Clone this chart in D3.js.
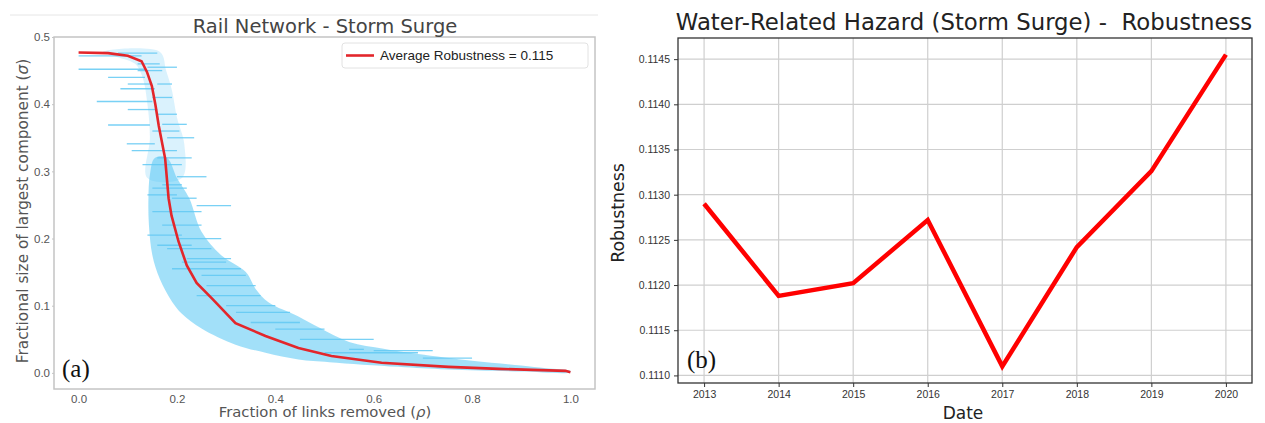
<!DOCTYPE html>
<html>
<head>
<meta charset="utf-8">
<script src="https://cdn.jsdelivr.net/npm/d3@7"></script>
<style>
  body { margin: 0; background: #fff; }
  svg { display: block; }
</style>
</head>
<body>
<div id="chart"></div>
<script>
// ---- data: panel (a) average robustness curve ----
const avgRho   = [0, 0.06, 0.10, 0.128, 0.139, 0.149, 0.156, 0.163, 0.176, 0.183, 0.189, 0.203, 0.220, 0.240, 0.271, 0.319, 0.38, 0.447, 0.514, 0.616, 0.752, 0.854, 0.99, 1.0];
const avgSigma = [0.477, 0.476, 0.472, 0.464, 0.448, 0.427, 0.40, 0.368, 0.319, 0.26, 0.234, 0.196, 0.160, 0.134, 0.111, 0.074, 0.055, 0.037, 0.025, 0.015, 0.009, 0.006, 0.003, 0.001];

// cloud of individual runs: sparse upper part and dense lower part (closed outlines)
const bandUpper = [[0.05,0.478],[0.165,0.478],[0.178,0.45],[0.19,0.42],[0.2,0.38],[0.215,0.34],[0.21,0.29],
                   [0.14,0.29],[0.145,0.35],[0.14,0.40],[0.13,0.44],[0.115,0.46],[0.08,0.47]];
const bandLower = [[0.155,0.32],[0.18,0.32],[0.2,0.29],[0.225,0.26],[0.25,0.21],[0.29,0.175],[0.34,0.15],[0.36,0.125],[0.386,0.105],
                   [0.447,0.084],[0.49,0.067],[0.55,0.046],[0.62,0.036],[0.69,0.028],[0.8,0.018],[0.9,0.011],[0.95,0.007],[1.0,0.003],
                   [1.0,0.001],[0.9,0.002],[0.75,0.005],[0.65,0.009],[0.51,0.016],[0.447,0.02],[0.38,0.03],[0.319,0.042],
                   [0.25,0.066],[0.21,0.088],[0.19,0.106],[0.165,0.14],[0.15,0.175],[0.143,0.22],[0.142,0.26],[0.145,0.295]];

// stray run segments [rhoStart, rhoEnd, sigma]
const runSegs = [
  [0.00,0.128,0.472],[0.00,0.135,0.452],[0.06,0.135,0.44],[0.085,0.155,0.423],[0.037,0.15,0.404],
  [0.10,0.16,0.392],[0.06,0.145,0.369],[0.098,0.155,0.341],[0.108,0.2,0.331],[0.13,0.21,0.31],
  [0.2,0.26,0.292],[0.15,0.22,0.275],[0.24,0.31,0.249],[0.15,0.25,0.24],[0.14,0.2,0.265],
  [0.17,0.25,0.22],[0.14,0.21,0.205],[0.18,0.27,0.185],[0.19,0.33,0.155],[0.25,0.34,0.145],
  [0.22,0.31,0.17],[0.3,0.4,0.1],[0.35,0.45,0.075],[0.55,0.58,0.035],[0.5,0.69,0.03],
  [0.08,0.16,0.476],[0.12,0.165,0.46],[0.16,0.19,0.43],[0.17,0.22,0.37],[0.18,0.235,0.35],
  [0.14,0.2,0.455],[0.15,0.19,0.41],[0.16,0.2,0.385],[0.15,0.205,0.36],[0.16,0.23,0.32],
  [0.17,0.21,0.28],[0.19,0.24,0.26],[0.2,0.29,0.2],[0.16,0.23,0.19],[0.21,0.3,0.165],
  [0.26,0.36,0.13],[0.24,0.37,0.115],[0.32,0.43,0.09],[0.4,0.5,0.065],[0.45,0.6,0.05],
  [0.6,0.72,0.033],[0.7,0.8,0.022],[0.12,0.17,0.45],[0.1,0.15,0.43]
];

const rhoTicks = [0, 0.2, 0.4, 0.6, 0.8, 1.0];
const sigmaTicks = [0, 0.1, 0.2, 0.3, 0.4, 0.5];

// ---- data: panel (b) robustness per year ----
const years = [2013, 2014, 2015, 2016, 2017, 2018, 2019, 2020];
const robustness = [0.11290, 0.11188, 0.11202, 0.11272, 0.11110, 0.11242, 0.11326, 0.11455];
const robTicks = [0.1110, 0.1115, 0.1120, 0.1125, 0.1130, 0.1135, 0.1140, 0.1145];

const W = 1265, H = 423;
const svg = d3.select('#chart').append('svg')
  .attr('width', W).attr('height', H)
  .style('font-family', 'DejaVu Sans, sans-serif');

// ================= panel (a) =================
const xa = d3.scaleLinear().domain([-0.05, 1.05]).range([54, 595]);
const ya = d3.scaleLinear().domain([-0.024, 0.5]).range([389, 37]);

// faint figure border on top
svg.append('line').attr('x1', 10).attr('x2', 598).attr('y1', 15).attr('y2', 15)
  .attr('stroke', '#e6e6e6');

const ga = svg.append('g');
ga.append('rect').attr('x', 54).attr('y', 37).attr('width', 541).attr('height', 352)
  .attr('fill', '#fff').attr('stroke', '#c4c4c4').attr('stroke-width', 1.5);

const closed = d3.line().x(d => xa(d[0])).y(d => ya(d[1])).curve(d3.curveCatmullRomClosed);
ga.append('path').attr('d', closed(bandUpper))
  .attr('fill', '#55c6f4').attr('fill-opacity', 0.22);
ga.append('path').attr('d', closed(bandLower))
  .attr('fill', '#55c6f4').attr('fill-opacity', 0.55);

ga.selectAll('line.run').data(runSegs).enter().append('line')
  .attr('class', 'run')
  .attr('x1', d => xa(d[0])).attr('x2', d => xa(d[1]))
  .attr('y1', d => ya(d[2])).attr('y2', d => ya(d[2]))
  .attr('stroke', '#62c9f4').attr('stroke-width', 1.3).attr('opacity', 0.85);

ga.append('path')
  .datum(avgRho.map((r, i) => [r, avgSigma[i]]))
  .attr('d', d3.line().x(d => xa(d[0])).y(d => ya(d[1])))
  .attr('fill', 'none').attr('stroke', '#e3262b').attr('stroke-width', 2.6);

const axA = svg.append('g').attr('transform', 'translate(0,389)')
  .call(d3.axisBottom(xa).tickValues(rhoTicks).tickFormat(d3.format('.1f')).tickSize(0).tickPadding(6));
axA.select('.domain').remove();
axA.selectAll('text').attr('fill', '#555').style('font-size', '11.5px');

const ayA = svg.append('g').attr('transform', 'translate(54,0)')
  .call(d3.axisLeft(ya).tickValues(sigmaTicks).tickFormat(d3.format('.1f')).tickSize(2).tickPadding(2));
ayA.select('.domain').remove();
ayA.selectAll('line').attr('stroke', '#c4c4c4');
ayA.selectAll('text').attr('fill', '#555').style('font-size', '11.5px');

svg.append('text').attr('x', 325).attr('y', 33).attr('text-anchor', 'middle')
  .attr('fill', '#444').style('font-size', '19.5px').text('Rail Network - Storm Surge');
const xl = svg.append('text').attr('x', 325).attr('y', 417).attr('text-anchor', 'middle')
  .attr('fill', '#555').style('font-size', '14.8px');
xl.append('tspan').text('Fraction of links removed (');
xl.append('tspan').style('font-style', 'italic').text('\u03c1');
xl.append('tspan').text(')');
const yl = svg.append('text').attr('transform', 'translate(28,211) rotate(-90)').attr('text-anchor', 'middle')
  .attr('fill', '#555').style('font-size', '15.3px');
yl.append('tspan').text('Fractional size of largest component (');
yl.append('tspan').style('font-style', 'italic').text('\u03c3');
yl.append('tspan').text(')');
svg.append('text').attr('x', 62).attr('y', 377)
  .style('font-family', 'Liberation Serif, serif').style('font-size', '25px').attr('fill', '#111').text('(a)');

// legend
const lg = svg.append('g').attr('transform', 'translate(342,43)');
lg.append('rect').attr('width', 246).attr('height', 25).attr('rx', 3)
  .attr('fill', '#fff').attr('stroke', '#e2e2e2');
lg.append('line').attr('x1', 4).attr('x2', 32).attr('y1', 12.5).attr('y2', 12.5)
  .attr('stroke', '#e3262b').attr('stroke-width', 2.6);
lg.append('text').attr('x', 38).attr('y', 17).style('font-family', 'Liberation Sans, Arial, sans-serif')
  .style('font-size', '13.5px').attr('fill', '#222').text('Average Robustness = 0.115');

// ================= panel (b) =================
const xb = d3.scaleLinear().domain([2012.65, 2020.35]).range([678, 1252]);
const yb = d3.scaleLinear().domain([0.110916, 0.114734]).range([383, 38]);

const gb = svg.append('g');
gb.selectAll('line.gx').data(years).enter().append('line').attr('class', 'gx')
  .attr('x1', d => xb(d)).attr('x2', d => xb(d)).attr('y1', 38).attr('y2', 383)
  .attr('stroke', '#cfcfcf').attr('stroke-width', 1.2);
gb.selectAll('line.gy').data(robTicks).enter().append('line').attr('class', 'gy')
  .attr('x1', 678).attr('x2', 1252).attr('y1', d => yb(d)).attr('y2', d => yb(d))
  .attr('stroke', '#cfcfcf').attr('stroke-width', 1.2);

gb.append('path')
  .datum(years.map((y, i) => [y, robustness[i]]))
  .attr('d', d3.line().x(d => xb(d[0])).y(d => yb(d[1])))
  .attr('fill', 'none').attr('stroke', '#ff0000').attr('stroke-width', 4.5)
  .attr('stroke-linejoin', 'miter');

gb.append('rect').attr('x', 678).attr('y', 38).attr('width', 574).attr('height', 345)
  .attr('fill', 'none').attr('stroke', '#333').attr('stroke-width', 1.3);

const axB = svg.append('g').attr('transform', 'translate(0,383)')
  .call(d3.axisBottom(xb).tickValues(years).tickFormat(d3.format('d')).tickSize(4).tickPadding(4));
axB.select('.domain').remove();
axB.selectAll('line').attr('stroke', '#333');
axB.selectAll('text').attr('fill', '#333').style('font-size', '10.5px');

const ayB = svg.append('g').attr('transform', 'translate(678,0)')
  .call(d3.axisLeft(yb).tickValues(robTicks).tickFormat(d3.format('.4f')).tickSize(4).tickPadding(4));
ayB.select('.domain').remove();
ayB.selectAll('line').attr('stroke', '#333');
ayB.selectAll('text').attr('fill', '#333').style('font-size', '10.5px');

svg.append('text').attr('x', 964).attr('y', 30).attr('text-anchor', 'middle')
  .attr('fill', '#222').style('font-size', '22.8px').style('white-space', 'pre')
  .text('Water-Related Hazard (Storm Surge) -  Robustness');
svg.append('text').attr('x', 963).attr('y', 419).attr('text-anchor', 'middle')
  .attr('fill', '#222').style('font-size', '17px').text('Date');
svg.append('text').attr('transform', 'translate(624,213) rotate(-90)').attr('text-anchor', 'middle')
  .attr('fill', '#222').style('font-size', '17.4px').text('Robustness');
svg.append('text').attr('x', 687).attr('y', 368)
  .style('font-family', 'Liberation Serif, serif').style('font-size', '25px').attr('fill', '#111').text('(b)');
</script>
</body>
</html>
